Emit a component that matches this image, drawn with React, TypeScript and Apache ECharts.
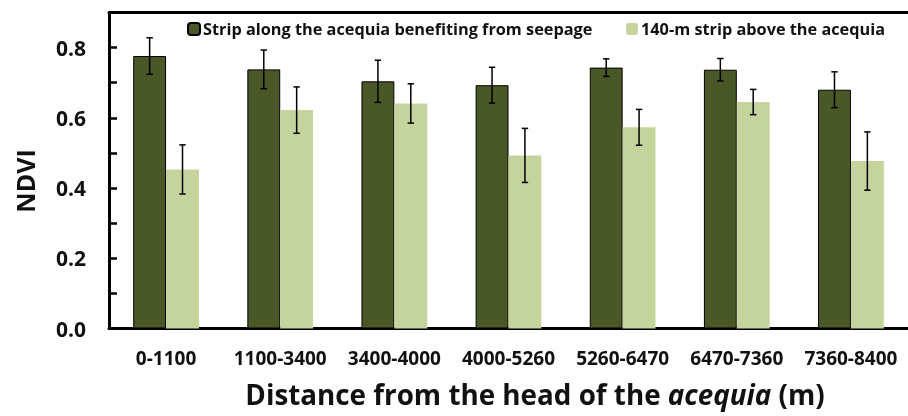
import React, { useEffect, useRef } from "react";
import * as echarts from "echarts";

const categories = ["0-1100", "1100-3400", "3400-4000", "4000-5260", "5260-6470", "6470-7360", "7360-8400"];
const seriesNames = ["Strip along the acequia benefiting from seepage", "140-m strip above the acequia"];
const stripValues = [0.776, 0.738, 0.704, 0.693, 0.743, 0.737, 0.680];
const stripErrors = [0.052, 0.055, 0.060, 0.051, 0.025, 0.032, 0.051];
const aboveValues = [0.453, 0.622, 0.641, 0.493, 0.573, 0.645, 0.477];
const aboveErrors = [0.070, 0.066, 0.056, 0.077, 0.051, 0.036, 0.083];

const DARK = "#4a5726";
const LIGHT = "#c5d49d";
const FONT = "Open Sans";

export default function App() {
  const ref = useRef<HTMLDivElement>(null);
  useEffect(() => {
    if (!ref.current) return;
    const chart = echarts.init(ref.current, null, { renderer: "svg" });
    const barPct = 0.288;
    const makeErr = (vals: number[], errs: number[], side: number) => ({
      type: "custom",
      xAxisIndex: 0,
      yAxisIndex: 0,
      silent: true,
      z: 10,
      data: vals.map((v, i) => [i, v, errs[i]]),
      renderItem: (params: any, api: any) => {
        const idx = api.value(0);
        const v = api.value(1);
        const e = api.value(2);
        const band = api.size([1, 0])[0];
        const cx = api.coord([idx, 0])[0] + side * band * barPct / 2;
        const yt = api.coord([idx, v + e])[1];
        const yb = api.coord([idx, v - e])[1];
        const cap = 3.2;
        const st = { stroke: "#000", lineWidth: 1.5 };
        return {
          type: "group",
          children: [
            { type: "line", shape: { x1: cx, y1: yt, x2: cx, y2: yb }, style: st },
            { type: "line", shape: { x1: cx - cap, y1: yt, x2: cx + cap, y2: yt }, style: st },
            { type: "line", shape: { x1: cx - cap, y1: yb, x2: cx + cap, y2: yb }, style: st },
          ],
        };
      },
    });
    const legendText = { fontFamily: FONT, fontWeight: "bold", fontSize: 16.3, color: "#111", padding: [0, 0, 0, -2] };
    const option: any = {
      animation: false,
      textStyle: { fontFamily: FONT },
      grid: { left: 109, top: 12.5, width: 808.5, bottom: 87.5, containLabel: false },
      legend: [
        {
          data: [seriesNames[0]],
          left: 187,
          top: 21,
          padding: 0,
          itemWidth: 12,
          itemHeight: 12,
          textStyle: legendText,
        },
        {
          data: [seriesNames[1]],
          left: 626,
          top: 21,
          padding: 0,
          itemWidth: 12,
          itemHeight: 12,
          textStyle: legendText,
        },
      ],
      xAxis: [
        {
          type: "category",
          data: categories,
          axisLine: { lineStyle: { color: "#000", width: 3 } },
          axisTick: { length: 7, lineStyle: { color: "#000", width: 3 } },
          axisLabel: { interval: 0, color: "#111", fontFamily: FONT, fontWeight: "bold", fontSize: 19, margin: 20 },
        },
        {
          type: "category",
          data: categories,
          position: "top",
          axisLine: { show: true, lineStyle: { color: "#000", width: 3 } },
          axisTick: { show: false },
          axisLabel: { show: false },
        },
      ],
      yAxis: {
        type: "value",
        min: 0,
        max: 0.9,
        interval: 0.1,
        splitLine: { show: false },
        axisLine: { show: true, lineStyle: { color: "#000", width: 3 } },
        axisTick: { show: true, inside: true, length: 8, lineStyle: { color: "#000", width: 2.5 } },
        axisLabel: {
          color: "#111",
          fontFamily: FONT,
          fontWeight: "bold",
          fontSize: 21,
          margin: 23,
          formatter: (v: number) => {
            const k = Math.round(v * 10);
            return k % 2 === 0 && k <= 8 ? (k / 10).toFixed(1) : "";
          },
        },
      },
      series: [
        {
          name: seriesNames[0],
          type: "bar",
          data: stripValues,
          barWidth: barPct * 100 + "%",
          barGap: "0%",
          itemStyle: { color: DARK, borderColor: "#000", borderWidth: 1 },
        },
        {
          name: seriesNames[1],
          type: "bar",
          data: aboveValues,
          barWidth: barPct * 100 + "%",
          barGap: "0%",
          itemStyle: { color: LIGHT },
        },
        makeErr(stripValues, stripErrors, -1),
        makeErr(aboveValues, aboveErrors, 1),
      ],
      graphic: [
        {
          type: "text",
          x: 25,
          y: 181,
          rotation: Math.PI / 2,
          style: {
            text: "NDVI",
            fontFamily: FONT,
            fontWeight: "bold",
            fontSize: 25,
            fill: "#111",
            align: "center",
            verticalAlign: "middle",
          },
        },
        {
          type: "text",
          x: 535,
          y: 394,
          style: {
            text: "Distance from the head of the {i|acequia} (m)",
            fontFamily: FONT,
            fontWeight: "bold",
            fontSize: 27.8,
            fill: "#111",
            align: "center",
            verticalAlign: "middle",
            rich: {
              i: { fontFamily: FONT, fontWeight: "bold", fontStyle: "italic", fontSize: 27.8, fill: "#111" },
            },
          },
        },
      ],
    };
    chart.setOption(option);
    return () => chart.dispose();
  }, []);
  return <div ref={ref} style={{ position: "fixed", left: 0, top: 0, width: 908, height: 416 }} />;
}
